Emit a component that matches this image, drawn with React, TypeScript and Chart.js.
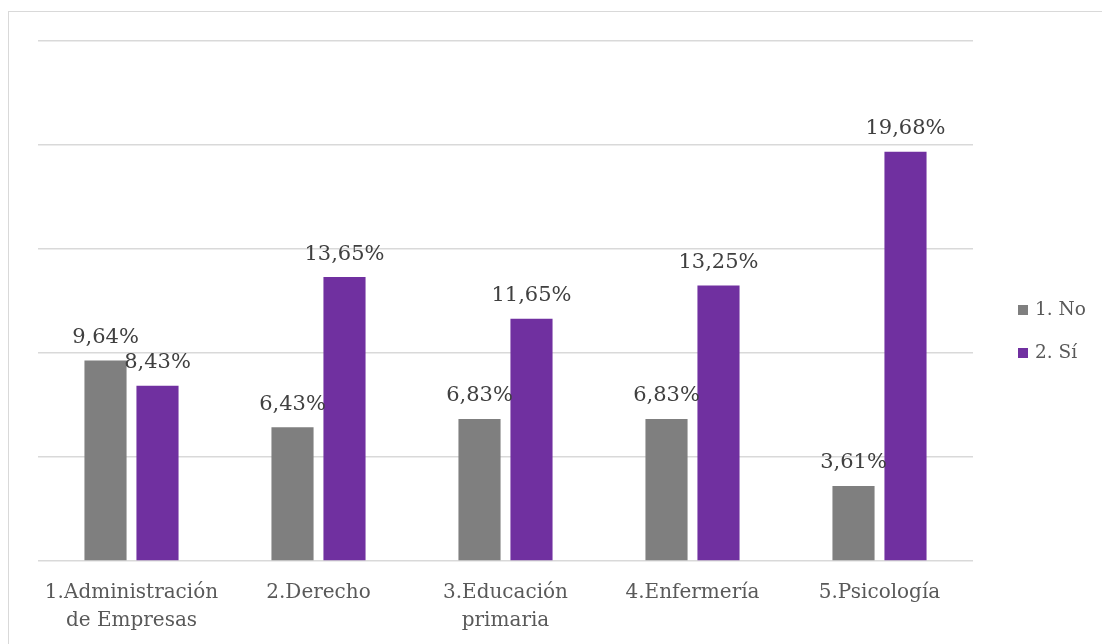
import React, { useEffect, useRef } from "react";
import { Chart, registerables } from "chart.js";

Chart.register(...registerables);

const categories: (string | string[])[] = [
  ["1.Administración", "de Empresas"],
  "2.Derecho",
  ["3.Educación", "primaria"],
  "4.Enfermería",
  "5.Psicología",
];
const seriesNames = ["1. No", "2. Sí"];
const noValues = [9.64, 6.43, 6.83, 6.83, 3.61];
const siValues = [8.43, 13.65, 11.65, 13.25, 19.68];
const colors = ["#7f7f7f", "#7030a0"];
const FONT = "'DejaVu Serif', serif";

const labelPlugin = {
  id: "barLabels",
  afterDatasetsDraw(chart: any) {
    const ctx = chart.ctx;
    ctx.save();
    ctx.font = `21px ${FONT}`;
    ctx.fillStyle = "#404040";
    ctx.textAlign = "center";
    ctx.textBaseline = "middle";
    chart.data.datasets.forEach((ds: any, i: number) => {
      const meta = chart.getDatasetMeta(i);
      meta.data.forEach((bar: any, j: number) => {
        const v = ds.data[j] as number;
        ctx.fillText(v.toFixed(2).replace(".", ",") + "%", bar.x, bar.y - 23);
      });
    });
    ctx.restore();
  },
};

const legendPlugin = {
  id: "customLegend",
  afterDraw(chart: any) {
    const ctx = chart.ctx;
    const x0 = chart.chartArea.right + 45;
    const ys = [310, 353];
    ctx.save();
    ctx.font = `18.5px ${FONT}`;
    ctx.textBaseline = "middle";
    ctx.textAlign = "left";
    chart.data.datasets.forEach((ds: any, i: number) => {
      ctx.fillStyle = ds.backgroundColor;
      ctx.fillRect(x0, ys[i] - 5, 10, 10);
      ctx.fillStyle = "#595959";
      ctx.fillText(ds.label, x0 + 17, ys[i]);
    });
    ctx.restore();
  },
};

export default function App() {
  const ref = useRef<HTMLCanvasElement>(null);
  useEffect(() => {
    if (!ref.current) return;
    const chart = new Chart(ref.current, {
      type: "bar",
      data: {
        labels: categories,
        datasets: [
          { label: seriesNames[0], data: noValues, backgroundColor: colors[0] },
          { label: seriesNames[1], data: siValues, backgroundColor: colors[1] },
        ],
      },
      options: {
        animation: false,
        responsive: false,
        maintainAspectRatio: false,
        layout: { padding: { left: 38, top: 41, right: 129, bottom: 0 } },
        datasets: { bar: { categoryPercentage: 0.556, barPercentage: 0.81 } } as any,
        plugins: { legend: { display: false }, tooltip: { enabled: false } },
        scales: {
          x: {
            grid: { display: false, drawTicks: false },
            border: { display: false },
            ticks: {
              color: "#595959",
              font: { family: FONT, size: 20, lineHeight: 1.4 },
              padding: 18,
              maxRotation: 0,
              autoSkip: false,
            },
            afterFit: (s: any) => {
              s.height = 83;
            },
          },
          y: {
            min: 0,
            max: 25,
            ticks: { display: false, stepSize: 5 },
            grid: { color: "#d9d9d9", lineWidth: 1.5, drawTicks: false },
            border: { display: false },
            afterFit: (s: any) => {
              s.width = 0;
            },
          },
        },
      },
      plugins: [labelPlugin, legendPlugin],
    });
    return () => chart.destroy();
  }, []);
  return (
    <div style={{ position: "absolute", left: 0, top: 0, width: 1102, height: 644, background: "#fff" }}>
      <canvas ref={ref} width={1102} height={644} style={{ position: "absolute", left: 0, top: 0 }} />
      <div
        style={{
          position: "absolute",
          left: 8,
          top: 11,
          width: 1110,
          height: 700,
          border: "1.5px solid #d9d9d9",
          pointerEvents: "none",
        }}
      />
    </div>
  );
}
